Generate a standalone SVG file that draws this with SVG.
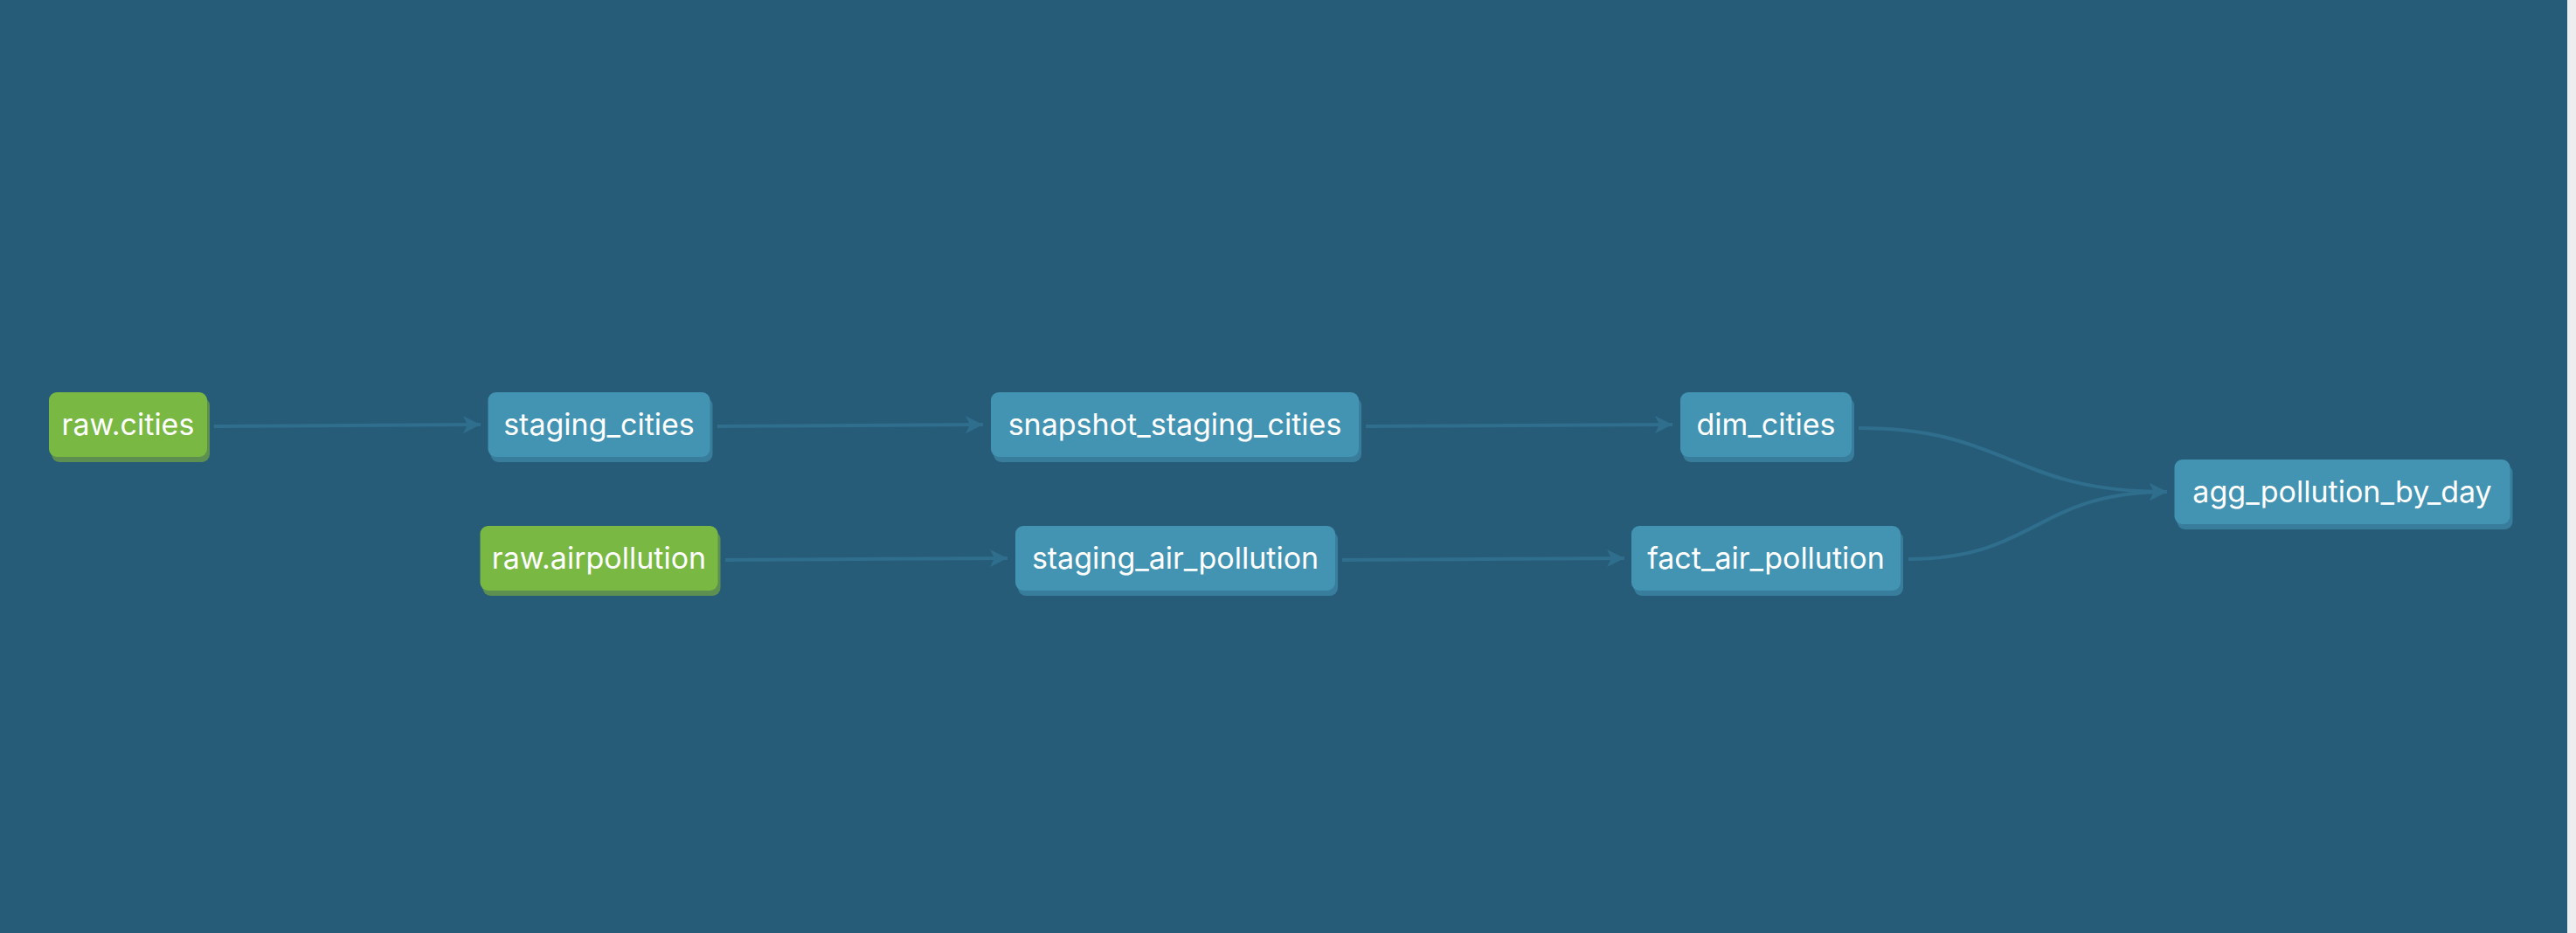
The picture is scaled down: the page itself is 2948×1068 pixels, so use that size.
<svg xmlns="http://www.w3.org/2000/svg" width="2948" height="1068" viewBox="0 0 2948 1068">
  <defs>
    <marker id="arrow" markerUnits="userSpaceOnUse" markerWidth="24" markerHeight="24" viewBox="0 0 24 24" refX="22" refY="12" orient="auto">
      <path d="M2,2 L22,12 L2,22 L7,12 Z" fill="#2F6E8D"/>
    </marker>
  </defs>
  <style>
    .bg { fill: #275C79; }
    .edge { fill: none; stroke: #2F6E8D; stroke-width: 4; marker-end: url(#arrow); }
    .model .body { fill: #4393B2; }
    .model .shadow { fill: #397D9C; }
    .source .body { fill: #78B843; }
    .source .shadow { fill: #5D8F50; }
    .label { font-family: Inter, "Liberation Sans", Arial, sans-serif; font-size: 34px; fill: #FFFFFF; text-anchor: middle; }
  </style>
  <rect class="bg" x="0" y="0" width="2948" height="1068"/>
  <rect x="2938" y="0" width="10" height="1068" fill="#EDEDEF"/>

  <g id="connectors">
    <path class="edge" d="M245,488 L550,486"/>
    <path class="edge" d="M821,488 L1125,486"/>
    <path class="edge" d="M1563,488 L1914,486"/>
    <path class="edge" d="M830,641 L1153,639"/>
    <path class="edge" d="M1536,641 L1859,639"/>
    <path class="edge" d="M2127,490 C2300,490 2300,563 2480,563"/>
    <path class="edge" d="M2184,640 C2330,640 2330,563 2480,563"/>
  </g>

  <g id="node-raw-cities" class="source">
    <rect class="shadow" x="59" y="455" width="181" height="74" rx="9"/>
    <rect class="body" x="56" y="449" width="181" height="74" rx="9"/>
    <text class="label" x="146.5" y="498">raw.cities</text>
  </g>
  <g id="node-staging-cities" class="model">
    <rect class="shadow" x="561.5" y="455" width="254" height="74" rx="9"/>
    <rect class="body" x="558.5" y="449" width="254" height="74" rx="9"/>
    <text class="label" x="685.5" y="498">staging_cities</text>
  </g>
  <g id="node-snapshot-staging-cities" class="model">
    <rect class="shadow" x="1137" y="455" width="421" height="74" rx="9"/>
    <rect class="body" x="1134" y="449" width="421" height="74" rx="9"/>
    <text class="label" x="1344.5" y="498">snapshot_staging_cities</text>
  </g>
  <g id="node-dim-cities" class="model">
    <rect class="shadow" x="1926" y="455" width="196" height="74" rx="9"/>
    <rect class="body" x="1923" y="449" width="196" height="74" rx="9"/>
    <text class="label" x="2021" y="498">dim_cities</text>
  </g>
  <g id="node-agg-pollution-by-day" class="model">
    <rect class="shadow" x="2491.5" y="532" width="384" height="74" rx="9"/>
    <rect class="body" x="2488.5" y="526" width="384" height="74" rx="9"/>
    <text class="label" x="2680.5" y="575">agg_pollution_by_day</text>
  </g>
  <g id="node-raw-airpollution" class="source">
    <rect class="shadow" x="552.5" y="608" width="272" height="74" rx="9"/>
    <rect class="body" x="549.5" y="602" width="272" height="74" rx="9"/>
    <text class="label" x="685.5" y="651">raw.airpollution</text>
  </g>
  <g id="node-staging-air-pollution" class="model">
    <rect class="shadow" x="1165" y="608" width="366" height="74" rx="9"/>
    <rect class="body" x="1162" y="602" width="366" height="74" rx="9"/>
    <text class="label" x="1345" y="651">staging_air_pollution</text>
  </g>
  <g id="node-fact-air-pollution" class="model">
    <rect class="shadow" x="1870" y="608" width="308" height="74" rx="9"/>
    <rect class="body" x="1867" y="602" width="308" height="74" rx="9"/>
    <text class="label" x="2021" y="651">fact_air_pollution</text>
  </g>
</svg>
